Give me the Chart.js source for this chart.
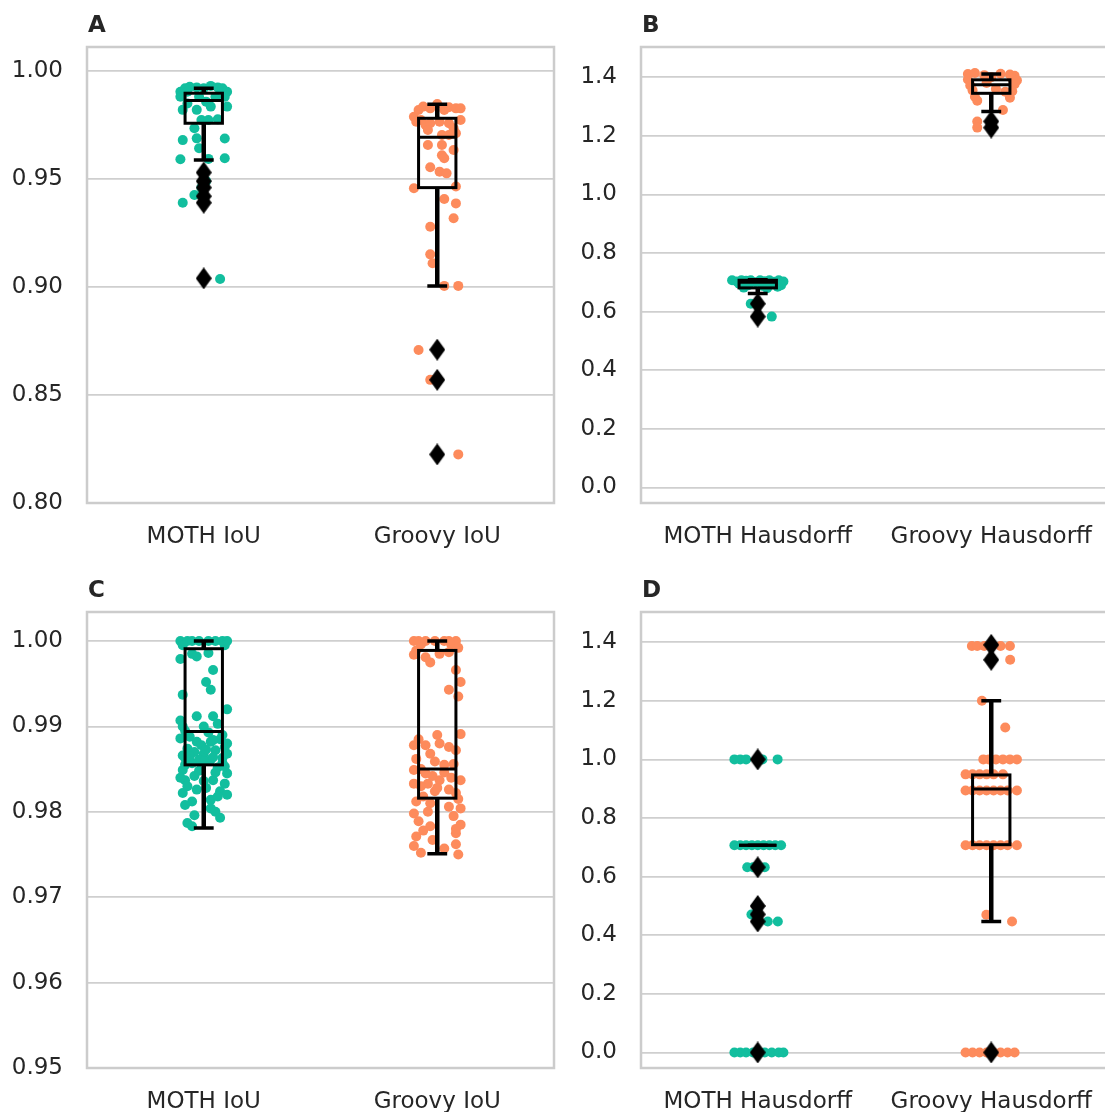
<!DOCTYPE html>
<html>
<head>
<meta charset="utf-8">
<script src="https://cdn.jsdelivr.net/npm/chart.js@4.4.0/dist/chart.umd.min.js"></script>
<style>
  html, body { margin: 0; background: #fff; overflow: hidden; width: 1105px; height: 1112px; }
  canvas { position: absolute; }
</style>
</head>
<body>
<canvas id="chartA" width="560" height="560" style="left:0;top:0"></canvas>
<canvas id="chartB" width="560" height="560" style="left:554px;top:0"></canvas>
<canvas id="chartC" width="560" height="560" style="left:0;top:565px"></canvas>
<canvas id="chartD" width="560" height="560" style="left:554px;top:565px"></canvas>
<script>
// categories
const catsIoU = ["MOTH IoU", "Groovy IoU"];
const catsHaus = ["MOTH Hausdorff", "Groovy Hausdorff"];

// y ticks
const ticksA = [0.80, 0.85, 0.90, 0.95, 1.00];
const ticksB = [0.0, 0.2, 0.4, 0.6, 0.8, 1.0, 1.2, 1.4];
const ticksC = [0.95, 0.96, 0.97, 0.98, 0.99, 1.00];
const ticksD = [0.0, 0.2, 0.4, 0.6, 0.8, 1.0, 1.2, 1.4];

// box stats: [lower whisker, q1, median, q3, upper whisker]
const boxA = [[0.9588, 0.9758, 0.9863, 0.9897, 0.9920], [0.9005, 0.9460, 0.9693, 0.9781, 0.9846]];
const boxB = [[0.662, 0.681, 0.700, 0.707, 0.709], [1.283, 1.345, 1.374, 1.391, 1.411]];
const boxC = [[0.9781, 0.9855, 0.9894, 0.9991, 1.0000], [0.9751, 0.9816, 0.9850, 0.9989, 1.0000]];
const boxD = [[0.707, 0.707, 0.707, 0.707, 0.707], [0.447, 0.709, 0.899, 0.947, 1.200]];

// outliers
const fliersA = [[0.953, 0.949, 0.946, 0.942, 0.939, 0.904], [0.871, 0.857, 0.8225]];
const fliersB = [[0.627, 0.583], [1.249, 1.228]];
const fliersC = [[], []];
const fliersD = [[1.0, 0.632, 0.5, 0.471, 0.447, 0.0], [1.391, 1.34, 0.0]];

// strip points: [value, jitter]
const mothA = [[0.9904,-0.10],[0.9920,-0.08],[0.9927,-0.06],[0.9924,-0.03],[0.9920,0.00],[0.9931,0.03],[0.9924,0.06],[0.9920,0.08],[0.9904,0.10],[0.9904,-0.07],[0.9881,-0.10],[0.9881,-0.02],[0.9881,0.05],[0.9881,0.09],[0.9858,0.01],[0.9850,-0.07],[0.9835,0.03],[0.9835,0.10],[0.9820,-0.09],[0.9820,-0.03],[0.9776,0.06],[0.9773,-0.01],[0.9773,0.02],[0.9735,-0.04],[0.9680,-0.09],[0.9688,-0.03],[0.9687,0.09],[0.9642,-0.02],[0.9591,-0.10],[0.9593,0.02],[0.9596,0.09],[0.9530,0.00],[0.9490,0.01],[0.9460,-0.01],[0.9426,-0.04],[0.9390,-0.09],[0.9037,0.07]];
const groovyA = [[0.9788,-0.10],[0.9819,-0.08],[0.9835,-0.06],[0.9827,-0.03],[0.9847,0.00],[0.9819,0.03],[0.9832,0.05],[0.9827,0.08],[0.9827,0.10],[0.9773,0.10],[0.9750,-0.05],[0.9758,-0.03],[0.9765,0.01],[0.9758,0.05],[0.9735,0.07],[0.9773,-0.07],[0.9765,-0.09],[0.9712,0.08],[0.9704,0.02],[0.9704,0.05],[0.9727,-0.04],[0.9657,-0.04],[0.9657,0.02],[0.9634,0.07],[0.9610,0.02],[0.9596,0.03],[0.9554,-0.03],[0.9534,0.01],[0.9526,0.04],[0.9457,-0.10],[0.9465,0.08],[0.9407,0.03],[0.9387,0.08],[0.9318,0.07],[0.9279,-0.03],[0.9151,-0.03],[0.9110,-0.02],[0.9005,0.03],[0.9005,0.09],[0.8708,-0.08],[0.8570,-0.03],[0.8225,0.09]];
const mothB = [[0.707,-0.11],[0.703,-0.09],[0.707,-0.07],[0.705,-0.05],[0.707,-0.03],[0.700,-0.01],[0.707,0.01],[0.704,0.03],[0.707,0.05],[0.702,0.07],[0.707,0.09],[0.703,0.11],[0.695,-0.08],[0.690,-0.04],[0.688,0.02],[0.693,0.06],[0.690,0.10],[0.682,-0.06],[0.680,0.04],[0.685,0.085],[0.627,-0.03],[0.583,0.06]];
const groovyB = [[1.411,-0.10],[1.414,-0.07],[1.407,-0.03],[1.412,0.04],[1.409,0.08],[1.405,0.10],[1.392,-0.10],[1.395,0.09],[1.389,0.11],[1.372,-0.09],[1.376,0.10],[1.355,-0.08],[1.350,0.06],[1.352,0.09],[1.333,-0.07],[1.330,0.08],[1.320,-0.06],[1.288,0.05],[1.249,-0.06],[1.228,-0.06],[1.380,-0.02],[1.360,0.02],[1.400,0.00]];
const mothC = [[1.0,-0.10],[1.0,-0.07],[1.0,-0.05],[1.0,-0.02],[1.0,0.02],[1.0,0.05],[1.0,0.08],[1.0,0.10],[0.9995,-0.09],[0.9995,0.09],[0.9979,-0.10],[0.9985,-0.05],[0.9982,-0.03],[0.9986,0.02],[0.9966,0.04],[0.9952,0.01],[0.9943,0.03],[0.9937,-0.09],[0.9920,0.10],[0.9907,-0.10],[0.9912,-0.03],[0.9912,0.04],[0.9903,0.06],[0.9900,-0.09],[0.9900,0.00],[0.9888,-0.06],[0.9882,-0.03],[0.9878,-0.01],[0.9882,0.03],[0.9880,0.10],[0.9874,-0.07],[0.9870,-0.04],[0.9868,0.00],[0.9872,0.05],[0.9863,0.08],[0.9863,-0.08],[0.9861,-0.02],[0.9861,0.03],[0.9857,-0.05],[0.9868,0.10],[0.9849,-0.09],[0.9857,0.08],[0.9845,0.10],[0.9837,-0.08],[0.9830,-0.07],[0.9837,0.04],[0.9833,0.09],[0.9826,-0.03],[0.9824,0.07],[0.9814,0.03],[0.9812,-0.05],[0.9804,0.03],[0.9793,0.07],[0.9787,-0.07],[0.9783,-0.05],[0.9885,0.07],[0.9865,-0.06],[0.9852,0.06],[0.9842,-0.04],[0.9828,0.01],[0.9818,0.06],[0.9895,-0.08],[0.9893,0.02],[0.9890,0.08],[0.9886,-0.10],[0.9884,0.04],[0.9876,0.09],[0.9873,0.01],[0.9866,-0.09],[0.9864,0.04],[0.9859,0.00],[0.9855,-0.08],[0.9853,0.09],[0.9848,-0.02],[0.9846,0.05],[0.9840,-0.10],[0.9836,0.00],[0.9822,-0.09],[0.9820,0.10],[0.9808,-0.08],[0.9800,0.05],[0.9796,-0.04]];
const groovyC = [[1.0,-0.10],[1.0,-0.08],[1.0,-0.05],[1.0,-0.01],[1.0,0.03],[1.0,0.05],[1.0,0.08],[0.9989,-0.09],[0.9981,-0.05],[0.9975,-0.03],[0.9985,0.01],[0.9987,0.05],[0.9966,0.08],[0.9952,0.10],[0.9943,0.05],[0.9935,0.09],[0.9891,0.10],[0.9890,0.00],[0.9878,-0.10],[0.9878,-0.05],[0.9880,0.01],[0.9876,0.05],[0.9868,-0.03],[0.9859,-0.01],[0.9849,-0.10],[0.9845,-0.05],[0.9837,0.01],[0.9837,0.10],[0.9833,-0.10],[0.9833,-0.04],[0.9826,0.05],[0.9824,-0.01],[0.9818,-0.06],[0.9822,0.08],[0.9810,-0.03],[0.9806,0.05],[0.9804,0.10],[0.9798,-0.10],[0.9789,-0.08],[0.9783,-0.03],[0.9785,0.10],[0.9771,-0.09],[0.9767,-0.02],[0.9775,0.08],[0.9762,0.08],[0.9752,-0.07],[0.9750,0.09],[0.9855,0.03],[0.9850,-0.07],[0.9840,0.06],[0.9830,-0.07],[0.9996,-0.07],[0.9996,0.06],[0.9992,0.09],[0.9984,-0.10],[0.9885,-0.08],[0.9872,0.08],[0.9862,-0.09],[0.9856,0.07],[0.9846,0.03],[0.9842,-0.02],[0.9828,0.00],[0.9815,0.09],[0.9812,-0.09],[0.9800,-0.04],[0.9795,0.07],[0.9780,0.08],[0.9778,-0.06],[0.9760,-0.10],[0.9757,0.03]];
const mothD = [[1.0,-0.10],[1.0,-0.075],[1.0,-0.05],[1.0,0.02],[1.0,0.085],[0.707,-0.10],[0.707,-0.075],[0.707,-0.05],[0.707,-0.025],[0.707,0.0],[0.707,0.025],[0.707,0.05],[0.707,0.075],[0.707,0.10],[0.632,-0.045],[0.632,-0.02],[0.632,0.03],[0.5,0.0],[0.471,-0.027],[0.447,0.043],[0.447,0.086],[0.0,-0.10],[0.0,-0.075],[0.0,-0.05],[0.0,-0.02],[0.0,0.0],[0.0,0.03],[0.0,0.06],[0.0,0.09],[0.0,0.11]];
const groovyD = [[1.387,-0.083],[1.387,-0.06],[1.387,-0.03],[1.387,0.0],[1.387,0.04],[1.387,0.08],[1.340,0.081],[1.2,-0.04],[1.109,0.06],[1.0,-0.034],[1.0,-0.01],[1.0,0.02],[1.0,0.05],[1.0,0.08],[1.0,0.11],[0.949,-0.11],[0.949,-0.08],[0.949,-0.05],[0.949,-0.02],[0.949,0.01],[0.949,0.05],[0.894,-0.11],[0.894,-0.08],[0.894,-0.05],[0.894,-0.02],[0.894,0.01],[0.894,0.04],[0.894,0.07],[0.894,0.11],[0.707,-0.11],[0.707,-0.08],[0.707,-0.05],[0.707,-0.02],[0.707,0.01],[0.707,0.04],[0.707,0.07],[0.707,0.11],[0.47,-0.021],[0.447,0.089],[0.0,-0.11],[0.0,-0.08],[0.0,-0.05],[0.0,-0.02],[0.0,0.01],[0.0,0.04],[0.0,0.07],[0.0,0.10]];

const TEAL = "#12be9e";
const ORANGE = "#fd8b5c";
const BOX_W = 0.16;
const CAP_W = 0.085;

Chart.defaults.font.family = "'DejaVu Sans', sans-serif";
Chart.defaults.font.size = 23;
Chart.defaults.color = "#262626";

function diamond() {
  const c = document.createElement("canvas");
  c.width = 16;
  c.height = 22;
  const g = c.getContext("2d");
  g.fillStyle = "#000";
  g.beginPath();
  g.moveTo(8, 0);
  g.lineTo(16, 11);
  g.lineTo(8, 22);
  g.lineTo(0, 11);
  g.closePath();
  g.fill();
  return c;
}
const diamondImg = diamond();

function toPoints(list, cat) {
  return list.map(([v, j]) => ({ x: cat + j, y: v }));
}

function makePanel(id, label, cats, ticks, digits, yMin, yMax, box, fliers, moth, groovy) {
  const flierPts = [];
  fliers.forEach((list, i) => list.forEach(v => flierPts.push({ x: i, y: v })));

  const panelPlugin = {
    id: "panel" + label,
    beforeDatasetsDraw(chart) {
      const a = chart.chartArea;
      const ctx = chart.ctx;
      ctx.save();
      ctx.strokeStyle = "#cccccc";
      ctx.lineWidth = 2.5;
      ctx.strokeRect(a.left, a.top, a.right - a.left, a.bottom - a.top);
      ctx.restore();
    },
    beforeDatasetDraw(chart, args) {
      if (!chart.data.datasets[args.index].flier) return;
      const { ctx, scales: { x, y } } = chart;
      ctx.save();
      ctx.strokeStyle = "#000";
      box.forEach((s, i) => {
        const [lo, q1, med, q3, hi] = s.map(v => y.getPixelForValue(v));
        const xc = x.getPixelForValue(i);
        const xl = x.getPixelForValue(i - BOX_W / 2);
        const xr = x.getPixelForValue(i + BOX_W / 2);
        const cl = x.getPixelForValue(i - CAP_W / 2);
        const cr = x.getPixelForValue(i + CAP_W / 2);
        ctx.lineWidth = 4.5;
        ctx.beginPath();
        ctx.moveTo(xc, q3); ctx.lineTo(xc, hi);
        ctx.moveTo(xc, q1); ctx.lineTo(xc, lo);
        ctx.stroke();
        ctx.lineWidth = 3.5;
        ctx.beginPath();
        ctx.moveTo(cl, hi); ctx.lineTo(cr, hi);
        ctx.moveTo(cl, lo); ctx.lineTo(cr, lo);
        ctx.stroke();
        ctx.lineWidth = 3;
        ctx.strokeRect(xl, q3, xr - xl, q1 - q3);
        ctx.beginPath();
        ctx.moveTo(xl, med); ctx.lineTo(xr, med);
        ctx.stroke();
      });
      ctx.restore();
    },
    afterDraw(chart) {
      const ctx = chart.ctx;
      ctx.save();
      ctx.font = "bold 23px 'DejaVu Sans', sans-serif";
      ctx.fillStyle = "#262626";
      ctx.textBaseline = "alphabetic";
      ctx.fillText(label, chart.chartArea.left + 1, chart.chartArea.top - 15);
      ctx.restore();
    }
  };

  return new Chart(document.getElementById(id), {
    type: "scatter",
    data: {
      datasets: [
        { data: toPoints(moth, 0), backgroundColor: TEAL, pointRadius: 5, borderWidth: 0, order: 2 },
        { data: toPoints(groovy, 1), backgroundColor: ORANGE, pointRadius: 5, borderWidth: 0, order: 2 },
        { data: flierPts, pointStyle: diamondImg, pointRadius: 5, order: 1, flier: true }
      ]
    },
    options: {
      responsive: false,
      animation: false,
      layout: { padding: { top: 47, right: 6, left: 0, bottom: 0 } },
      plugins: { legend: { display: false }, tooltip: { enabled: false } },
      scales: {
        x: {
          type: "linear",
          min: -0.5,
          max: 1.5,
          afterBuildTicks: s => { s.ticks = [{ value: 0 }, { value: 1 }]; },
          afterFit: s => { s.height = 57; },
          grid: { display: false },
          border: { display: false },
          ticks: { padding: 12, callback: v => cats[v] }
        },
        y: {
          min: yMin,
          max: yMax,
          afterBuildTicks: s => { s.ticks = ticks.map(v => ({ value: v })); },
          afterFit: s => { s.width = 87; },
          grid: { color: "#cfcfcf", lineWidth: 1.8, drawTicks: false },
          border: { display: false },
          ticks: { padding: 24, callback: v => v.toFixed(digits) }
        }
      }
    },
    plugins: [panelPlugin]
  });
}

makePanel("chartA", "A", catsIoU, ticksA, 2, 0.80, 1.0111, boxA, fliersA, mothA, groovyA);
makePanel("chartB", "B", catsHaus, ticksB, 1, -0.053, 1.503, boxB, fliersB, mothB, groovyB);
makePanel("chartC", "C", catsIoU, ticksC, 2, 0.95, 1.0034, boxC, fliersC, mothC, groovyC);
makePanel("chartD", "D", catsHaus, ticksD, 1, -0.053, 1.503, boxD, fliersD, mothD, groovyD);
</script>
</body>
</html>
